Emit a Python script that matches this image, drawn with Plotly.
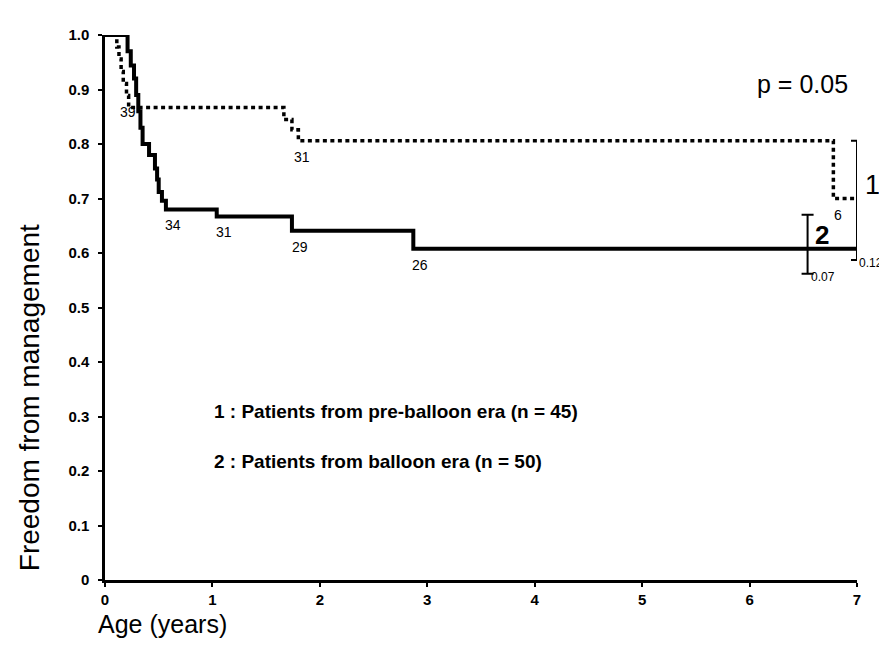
import numpy as np
import plotly.graph_objects as go

# ---- data ----
# Curve 1: patients from pre-balloon era (dotted)
x_pre = [0.08, 0.11, 0.13, 0.15, 0.17, 0.20, 0.22, 1.665, 1.74, 1.80, 6.78, 7.0]
y_pre = [1.0, 0.978, 0.956, 0.933, 0.911, 0.889, 0.867, 0.845, 0.826, 0.806, 0.70, 0.70]
# Curve 2: patients from balloon era (solid)
x_bal = [0.0, 0.21, 0.24, 0.27, 0.29, 0.31, 0.33, 0.35, 0.41, 0.465, 0.485, 0.50, 0.53, 0.567, 1.04, 1.74, 2.87, 7.0]
y_bal = [1.0, 0.97, 0.944, 0.92, 0.89, 0.86, 0.83, 0.80, 0.78, 0.755, 0.735, 0.712, 0.696, 0.68, 0.667, 0.641, 0.608, 0.608]

# numbers at risk
risk_pre_x = [0.214, 1.834, 6.825]
risk_pre_n = ["39", "31", "6"]
risk_bal_x = [0.633, 1.108, 1.816, 2.933]
risk_bal_n = ["34", "31", "29", "26"]

# final estimates with error bars
err_x = [7.0, 6.54]
err_center = [0.697, 0.608]
err_plus = [0.109, 0.062]
err_minus = [0.110, 0.046]
err_names = ["1", "2"]
err_se = ["0.12", "0.07"]

x_ticks = [0, 1, 2, 3, 4, 5, 6, 7]
y_ticks = [0, 0.1, 0.2, 0.3, 0.4, 0.5, 0.6, 0.7, 0.8, 0.9, 1.0]
y_ticktext = ["0", "0.1", "0.2", "0.3", "0.4", "0.5", "0.6", "0.7", "0.8", "0.9", "1.0"]

legend_lines = ["1 : Patients from pre-balloon era (n = 45)",
                "2 : Patients from balloon era (n = 50)"]
p_text = "p = 0.05"

FONT = "Liberation Sans, Arial, Helvetica, sans-serif"


def step_value(xs, ys, x):
    idx = np.searchsorted(np.array(xs), x, side="right") - 1
    idx = max(0, min(idx, len(ys) - 1))
    return ys[idx]


fig = go.Figure()

fig.add_trace(go.Scatter(
    x=x_pre, y=y_pre, mode="lines", line_shape="hv",
    line=dict(color="black", width=3.5, dash="4px,3.5px"),
    cliponaxis=False, showlegend=False, hoverinfo="skip"))

fig.add_trace(go.Scatter(
    x=x_bal, y=y_bal, mode="lines", line_shape="hv",
    line=dict(color="black", width=4),
    cliponaxis=False, showlegend=False, hoverinfo="skip"))

fig.add_trace(go.Scatter(
    x=err_x, y=err_center, mode="markers",
    marker=dict(size=1, color="rgba(0,0,0,0)"),
    error_y=dict(type="data", symmetric=False, array=err_plus, arrayminus=err_minus,
                 color="black", thickness=2, width=6),
    cliponaxis=False, showlegend=False, hoverinfo="skip"))

annotations = []
for x, n in zip(risk_pre_x, risk_pre_n):
    annotations.append(dict(x=x, y=step_value(x_pre, y_pre, x), text=n, showarrow=False,
                            yshift=-16, font=dict(family=FONT, size=14, color="black")))
for x, n in zip(risk_bal_x, risk_bal_n):
    annotations.append(dict(x=x, y=step_value(x_bal, y_bal, x), text=n, showarrow=False,
                            yshift=-16, font=dict(family=FONT, size=14, color="black")))

# error bar labels
annotations.append(dict(x=err_x[0], y=err_center[0] + 0.028, text=err_names[0], showarrow=False,
                        xanchor="center", xshift=15, font=dict(family=FONT, size=27, color="black")))
annotations.append(dict(x=err_x[1], y=err_center[1] + 0.025, text="<b>" + err_names[1] + "</b>",
                        showarrow=False, xanchor="left", xshift=5,
                        font=dict(family=FONT, size=26, color="black")))
annotations.append(dict(x=err_x[0], y=err_center[0] - err_minus[0], text=err_se[0], showarrow=False,
                        xanchor="left", yanchor="middle", xshift=0, yshift=-3,
                        font=dict(family=FONT, size=12, color="black")))
annotations.append(dict(x=err_x[1], y=err_center[1] - err_minus[1], text=err_se[1], showarrow=False,
                        xanchor="left", yanchor="middle", xshift=1, yshift=-3,
                        font=dict(family=FONT, size=12, color="black")))

annotations.append(dict(x=6.49, y=0.91, text=p_text, showarrow=False,
                        font=dict(family=FONT, size=25, color="black")))

annotations.append(dict(x=1.0, y=0.31, text="<b>" + legend_lines[0] + "</b>", showarrow=False,
                        xanchor="left", font=dict(family=FONT, size=19, color="black")))
annotations.append(dict(x=1.0, y=0.218, text="<b>" + legend_lines[1] + "</b>", showarrow=False,
                        xanchor="left", font=dict(family=FONT, size=19, color="black")))

# axis titles
annotations.append(dict(xref="paper", yref="paper", x=-0.012, y=-0.08, text="Age (years)",
                        showarrow=False, xanchor="left", yanchor="middle",
                        font=dict(family=FONT, size=25, color="black")))
annotations.append(dict(xref="paper", yref="paper", x=-0.1, y=0.335, text="Freedom from management",
                        showarrow=False, textangle=-90, xanchor="center", yanchor="middle",
                        font=dict(family=FONT, size=28, color="black")))

fig.update_layout(
    width=887, height=645,
    margin=dict(l=97, r=38, t=27, b=73),
    paper_bgcolor="white", plot_bgcolor="white",
    annotations=annotations,
    xaxis=dict(range=[0, 7], tickvals=x_ticks, showgrid=False, zeroline=False,
               showline=True, linecolor="black", linewidth=2.5,
               ticks="outside", ticklen=4, tickwidth=2, tickcolor="black",
               tickfont=dict(family=FONT, size=15, color="black", weight="bold")),
    yaxis=dict(range=[0, 1], tickvals=y_ticks, ticktext=y_ticktext, showgrid=False, zeroline=False,
               showline=True, linecolor="black", linewidth=2.5,
               ticks="outside", ticklen=4, tickwidth=2, tickcolor="black",
               ticklabelstandoff=6,
               tickfont=dict(family=FONT, size=15, color="black", weight="bold")),
)

fig.write_html("out.html")
